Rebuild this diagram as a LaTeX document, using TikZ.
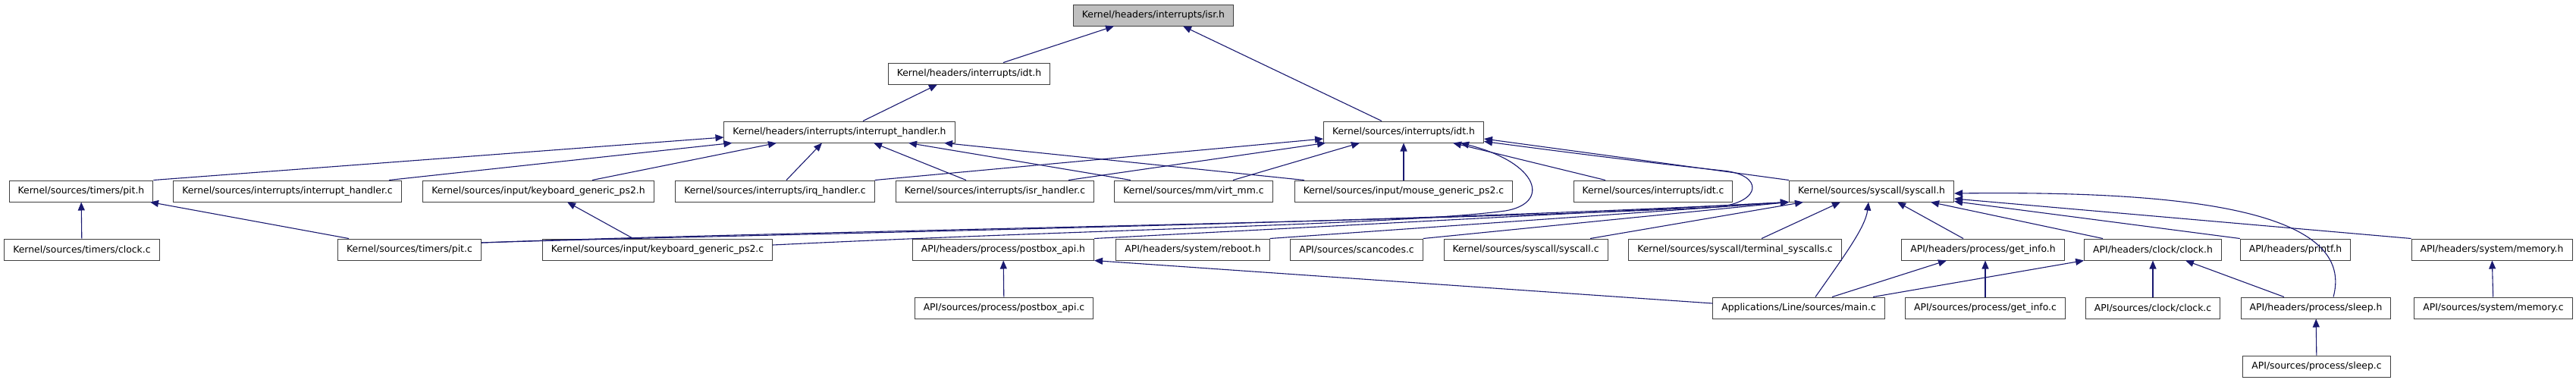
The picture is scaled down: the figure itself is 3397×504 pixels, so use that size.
\documentclass[tikz,border=0pt]{standalone}
\usepackage{fontspec}
\setmainfont{DejaVu Sans}
\usepackage{xcolor}
\definecolor{edgeblue}{HTML}{191970}
\definecolor{boxline}{HTML}{404040}
\definecolor{focusgray}{HTML}{BFBFBF}
\usepackage{tikz}
\usetikzlibrary{arrows.meta}
\tikzset{
  filebox/.style ={rectangle, draw=boxline, line width=1pt, fill=white, text=black, inner xsep=11.5pt, inner ysep=0pt,
                   minimum height=28pt, font=\fontsize{12.4}{14}\selectfont},
  fileboxc/.style={filebox, fill=focusgray},
  incl/.style    ={-{Triangle[length=11pt,width=9pt]}, line width=1.1pt, color=edgeblue},
}

\begin{document}
\begin{tikzpicture}[x=1pt, y=-1pt]
  \useasboundingbox (0,0) rectangle (3397,504);
  \node[fileboxc] (isrh) at (1521,20) {Kernel/headers/interrupts/isr.h};
  \node[filebox] (hidth) at (1278,97) {Kernel/headers/interrupts/idt.h};
  \node[filebox] (ihh) at (1107,174) {Kernel/headers/interrupts/interrupt\_handler.h};
  \node[filebox] (sidth) at (1851,174) {Kernel/sources/interrupts/idt.h};
  \node[filebox] (pith) at (107,252) {Kernel/sources/timers/pit.h};
  \node[filebox] (ihc) at (379,252) {Kernel/sources/interrupts/interrupt\_handler.c};
  \node[filebox] (kbdh) at (710,252) {Kernel/sources/input/keyboard\_generic\_ps2.h};
  \node[filebox] (irqc) at (1022,252) {Kernel/sources/interrupts/irq\_handler.c};
  \node[filebox] (isrc) at (1312,252) {Kernel/sources/interrupts/isr\_handler.c};
  \node[filebox] (virtc) at (1574,252) {Kernel/sources/mm/virt\_mm.c};
  \node[filebox] (mousec) at (1851,252) {Kernel/sources/input/mouse\_generic\_ps2.c};
  \node[filebox] (idtc) at (2180,252) {Kernel/sources/interrupts/idt.c};
  \node[filebox] (syscallh) at (2468,252) {Kernel/sources/syscall/syscall.h};
  \node[filebox] (tclockc) at (108,329) {Kernel/sources/timers/clock.c};
  \node[filebox] (pitc) at (540,329) {Kernel/sources/timers/pit.c};
  \node[filebox] (kbdc) at (867,329) {Kernel/sources/input/keyboard\_generic\_ps2.c};
  \node[filebox] (postboxh) at (1323,329) {API/headers/process/postbox\_api.h};
  \node[filebox] (rebooth) at (1573,329) {API/headers/system/reboot.h};
  \node[filebox] (scanc) at (1789,329) {API/sources/scancodes.c};
  \node[filebox] (syscallc) at (2012,329) {Kernel/sources/syscall/syscall.c};
  \node[filebox] (termc) at (2288,329) {Kernel/sources/syscall/terminal\_syscalls.c};
  \node[filebox] (getinfoh) at (2615,329) {API/headers/process/get\_info.h};
  \node[filebox] (clockh) at (2839,329) {API/headers/clock/clock.h};
  \node[filebox] (printfh) at (3027,329) {API/headers/printf.h};
  \node[filebox] (memoryh) at (3286,329) {API/headers/system/memory.h};
  \node[filebox] (postboxc) at (1324,406) {API/sources/process/postbox\_api.c};
  \node[filebox] (mainc) at (2372,406) {Applications/Line/sources/main.c};
  \node[filebox] (getinfoc) at (2618,406) {API/sources/process/get\_info.c};
  \node[filebox] (clockc) at (2839,406) {API/sources/clock/clock.c};
  \node[filebox] (sleeph) at (3054,406) {API/headers/process/sleep.h};
  \node[filebox] (memoryc) at (3288,406) {API/sources/system/memory.c};
  \node[filebox] (sleepc) at (3055,483) {API/sources/process/sleep.c};

  \draw[incl] ([xshift=45pt]hidth.north) -- ([xshift=-52pt]isrh.south); \draw[incl] ([xshift=-29pt]sidth.north) -- ([xshift=39pt]isrh.south);
  \draw[incl] ([xshift=31pt]ihh.north) -- ([xshift=-42pt]hidth.south);
  \draw[incl] (pith.north east) -- ([yshift=-7pt]ihh.west); \draw[incl] ([xshift=134pt]ihc.north) -- ([xshift=11pt]ihh.south west);
  \draw[incl] ([xshift=71pt]kbdh.north) -- ([xshift=-83pt]ihh.south); \draw[incl] ([xshift=15pt]irqc.north) -- ([xshift=-23pt]ihh.south);
  \draw[incl] ([xshift=-38pt]isrc.north) -- ([xshift=45pt]ihh.south); \draw[incl] ([xshift=-83pt]virtc.north) -- ([xshift=91pt]ihh.south);
  \draw[incl] ([xshift=13pt]mousec.north west) -- ([xshift=138pt]ihh.south);
  \draw[incl] (irqc.north east) -- ([yshift=-9pt]sidth.west); \draw[incl] ([xshift=97pt]isrc.north) -- ([xshift=3pt]sidth.south west);
  \draw[incl] ([xshift=52pt]virtc.north) -- ([xshift=-58pt]sidth.south); \draw[incl] (mousec) -- (sidth);
  \draw[incl] ([xshift=-63pt]idtc.north) -- ([xshift=65pt]sidth.south); \draw[incl] (syscallh.north west) -- ([yshift=-9pt]sidth.east);
  \draw[incl] ([yshift=6pt]kbdc.east) .. controls (1450,302) and (1850,296) .. (1985,278) .. controls (2045,268) and (2030,215) .. ([xshift=75pt]sidth.south);
  \draw[incl] ([yshift=9pt]pitc.east) .. controls (1000,306) and (1900,292) .. (2265,273) .. controls (2325,266) and (2325,230) .. (2272,225) .. controls (2150,212) and (2030,196) .. ([yshift=2pt]sidth.south east);
  \draw[incl] (tclockc) -- (pith); \draw[incl] ([xshift=-80pt]pitc.north) -- ([xshift=91pt]pith.south);
  \draw[incl] ([xshift=-32pt]kbdc.north) -- ([xshift=38pt]kbdh.south);
  \draw[incl] ([yshift=9pt]pitc.east) .. controls (900,311) and (1800,296) .. (syscallh.south west);
  \draw[incl] (postboxh.north east) -- (syscallh.south west); \draw[incl] (rebooth.north east) -- (syscallh.south west);
  \draw[incl] (scanc.north east) -- (syscallh.south west); \draw[incl] ([xshift=85pt]syscallc.north) -- ([xshift=19pt]syscallh.south west);
  \draw[incl] ([xshift=35pt]termc.north) -- ([xshift=-41pt]syscallh.south);
  \draw[incl] ([xshift=22pt]mainc.north) .. controls (2430,340) and (2460,300) .. ([xshift=-4pt]syscallh.south);
  \draw[incl] ([xshift=-26pt]getinfoh.north) -- ([xshift=34pt]syscallh.south); \draw[incl] ([xshift=-66pt]clockh.north) -- ([xshift=78pt]syscallh.south);
  \draw[incl] (printfh.north west) -- ([yshift=1pt]syscallh.south east); \draw[incl] (memoryh.north west) -- ([yshift=-10pt]syscallh.east);
  \draw[incl] ([xshift=23pt]sleeph.north) .. controls (3110,270) and (2850,252) .. ([yshift=-3pt]syscallh.east);
  \draw[incl] ([xshift=-42pt]sleeph.north) -- ([xshift=43pt]clockh.south); \draw[incl] (clockc) -- (clockh);
  \draw[incl] (getinfoc.north) -- (getinfoc.north |- getinfoh.south);
  \draw[incl] ([xshift=44pt]mainc.north) -- ([xshift=-48pt]getinfoh.south); \draw[incl] ([xshift=98pt]mainc.north) -- (clockh.south west);
  \draw[incl] ([yshift=6pt]mainc.west) -- (postboxh.south east); \draw[incl] (postboxc) -- (postboxh);
  \draw[incl] (memoryc) -- (memoryh); \draw[incl] (sleepc) -- (sleeph);
\end{tikzpicture}
\end{document}
